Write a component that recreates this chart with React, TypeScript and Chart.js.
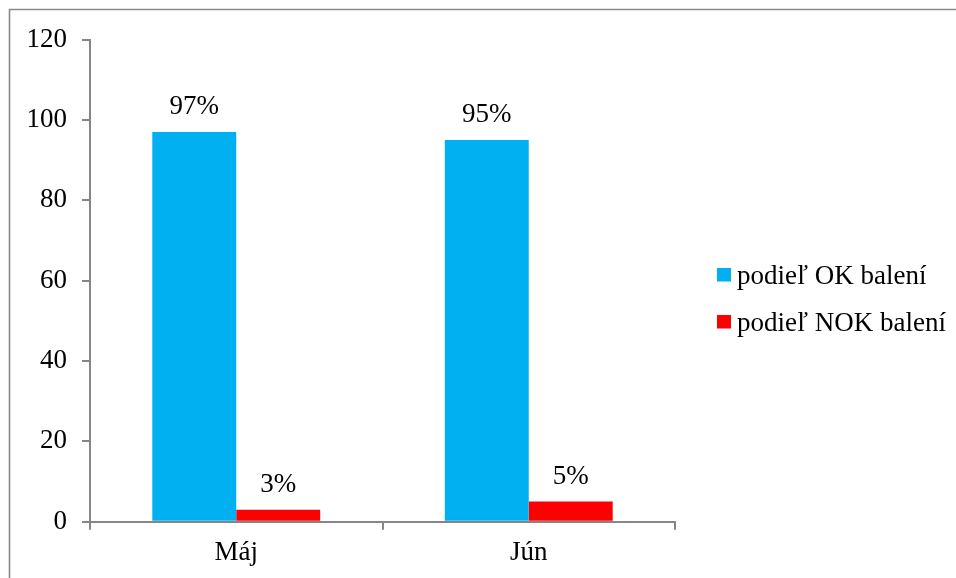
import React, { useEffect, useRef } from "react";
import { Chart, registerables } from "chart.js";

Chart.register(...registerables);

const months = ["Máj", "Jún"];
const okShare = [97, 95];
const nokShare = [3, 5];
const seriesNames = ["podieľ OK balení", "podieľ NOK balení"];
const seriesColors = ["#00B0F0", "#FF0000"];

const FONT = "'Liberation Serif', 'Times New Roman', serif";
const FONT_SIZE = 27;
const AXIS_GRAY = "#868686";

// Frame line along the left and top edges of the figure
const framePlugin = {
  id: "frame",
  beforeDraw(chart: any) {
    const { ctx } = chart;
    ctx.save();
    ctx.strokeStyle = "#8a8a8a";
    ctx.lineWidth = 1.6;
    ctx.beginPath();
    ctx.moveTo(9.5, chart.height);
    ctx.lineTo(9.5, 9.5);
    ctx.lineTo(chart.width, 9.5);
    ctx.stroke();
    ctx.restore();
  },
};

// Percentage labels above each bar
const valueLabelPlugin = {
  id: "valueLabels",
  afterDatasetsDraw(chart: any) {
    const { ctx } = chart;
    ctx.save();
    ctx.font = `${FONT_SIZE}px ${FONT}`;
    ctx.fillStyle = "#000";
    ctx.textAlign = "center";
    ctx.textBaseline = "alphabetic";
    chart.data.datasets.forEach((ds: any, di: number) => {
      const meta = chart.getDatasetMeta(di);
      meta.data.forEach((bar: any, i: number) => {
        ctx.fillText(`${ds.data[i]}%`, bar.x, bar.y - 17.5);
      });
    });
    ctx.restore();
  },
};

// Legend to the right of the plot
const sideLegendPlugin = {
  id: "sideLegend",
  afterDraw(chart: any) {
    const { ctx } = chart;
    ctx.save();
    ctx.font = `${FONT_SIZE}px ${FONT}`;
    ctx.textBaseline = "alphabetic";
    ctx.textAlign = "left";
    const x = 717;
    const startY = 283.5;
    const rowGap = 47;
    chart.data.datasets.forEach((ds: any, i: number) => {
      const baseY = startY + i * rowGap;
      ctx.fillStyle = ds.backgroundColor;
      ctx.fillRect(x, baseY - 15.5, 14, 13.5);
      ctx.fillStyle = "#000";
      ctx.fillText(ds.label, x + 20, baseY);
    });
    ctx.restore();
  },
};

export default function App() {
  const canvasRef = useRef<HTMLCanvasElement | null>(null);

  useEffect(() => {
    if (!canvasRef.current) return;
    const chart = new Chart(canvasRef.current, {
      type: "bar",
      data: {
        labels: months,
        datasets: [
          {
            label: seriesNames[0],
            data: okShare,
            backgroundColor: seriesColors[0],
            categoryPercentage: 0.574,
            barPercentage: 1,
          },
          {
            label: seriesNames[1],
            data: nokShare,
            backgroundColor: seriesColors[1],
            categoryPercentage: 0.574,
            barPercentage: 1,
          },
        ],
      },
      options: {
        animation: false,
        responsive: false,
        maintainAspectRatio: false,
        devicePixelRatio: 1,
        layout: { padding: { top: 39.5, right: 281, bottom: 0, left: 0 } },
        plugins: {
          legend: { display: false },
          tooltip: { enabled: false },
        },
        scales: {
          x: {
            offset: true,
            grid: {
              display: true,
              offset: true,
              drawOnChartArea: false,
              drawTicks: true,
              tickLength: 8,
              color: AXIS_GRAY,
              lineWidth: 2,
            },
            border: { display: true, color: AXIS_GRAY, width: 2 },
            ticks: {
              color: "#000",
              font: { family: FONT, size: FONT_SIZE },
              padding: 7,
            },
            afterFit(scale: any) {
              scale.height = 56.3;
            },
          },
          y: {
            min: 0,
            max: 120,
            ticks: {
              stepSize: 20,
              color: "#000",
              font: { family: FONT, size: FONT_SIZE },
              padding: 15,
            },
            grid: {
              display: true,
              drawOnChartArea: false,
              drawTicks: true,
              tickLength: 8,
              color: AXIS_GRAY,
              lineWidth: 2,
            },
            border: { display: true, color: AXIS_GRAY, width: 2 },
            afterFit(scale: any) {
              scale.width = 90;
            },
          },
        },
      },
      plugins: [framePlugin, valueLabelPlugin, sideLegendPlugin],
    });
    return () => chart.destroy();
  }, []);

  return (
    <div>
      <style>{"html,body{overflow:hidden;background:#fff}"}</style>
      <canvas
        ref={canvasRef}
        width={956}
        height={578}
        style={{ position: "fixed", left: 0, top: 0, width: 956, height: 578 }}
      />
    </div>
  );
}
